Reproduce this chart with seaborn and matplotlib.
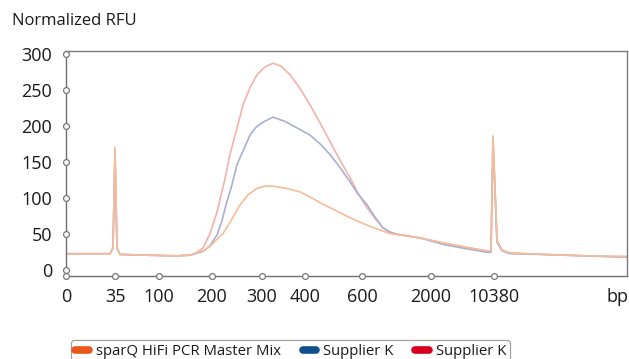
import matplotlib
matplotlib.use("Agg")
import matplotlib.pyplot as plt
from matplotlib.lines import Line2D
import seaborn as sns
import pandas as pd

# Electropherogram traces: position along the run (ladder scale) vs normalized RFU
red_pos = [0, 44, 47, 49, 51, 54, 80, 110, 124, 130, 137, 144, 151, 158, 164, 171, 177, 184,
           191, 199, 207, 215, 224, 234, 244, 254, 264, 274, 284, 292, 301, 309, 317, 324,
           331, 354, 377, 400, 421, 425, 427, 431, 436, 444, 477, 520, 561]
red_rfu = [22, 22, 30, 168, 30, 21, 20, 19, 20, 23, 30, 50, 80, 120, 160, 197, 229, 253,
           271, 282, 287, 283, 271, 252, 229, 204, 178, 152, 128, 106, 86, 71, 58, 52,
           49, 44, 37, 31, 26, 26, 183, 40, 27, 23, 21, 19, 18]

blue_pos = [0, 44, 47, 49, 51, 54, 80, 110, 124, 137, 144, 151, 156, 160, 166, 171, 178,
            184, 190, 197, 207, 219, 231, 244, 254, 264, 274, 284, 292, 301, 309, 317, 324,
            331, 354, 377, 400, 421, 425, 427, 431, 436, 444, 477, 520, 561]
blue_rfu = [22, 22, 30, 165, 30, 21, 20, 19, 20, 25, 33, 48, 68, 90, 118, 146, 168,
            187, 198, 205, 212, 206, 197, 187, 175, 160, 142, 122, 105, 90, 73, 58, 52,
            49, 44, 35, 29, 24, 24, 180, 38, 26, 22, 21, 19, 17]

orange_pos = [0, 44, 47, 49, 51, 54, 80, 110, 124, 137, 144, 151, 157, 165, 174, 182, 191,
              199, 207, 220, 234, 244, 254, 264, 274, 284, 294, 304, 314, 324, 331, 354,
              377, 400, 421, 425, 427, 431, 436, 444, 477, 520, 561]
orange_rfu = [22, 22, 30, 170, 30, 21, 20, 19, 20, 26, 32, 42, 50, 68, 90, 104, 113,
              116, 116, 113, 108, 101, 93, 86, 79, 72, 66, 60, 55, 50, 49, 44,
              37, 31, 26, 26, 186, 40, 27, 23, 21, 19, 18]

# Ladder positions and their size labels
tick_pos = [0, 49, 93, 146, 196, 239, 296, 365, 428]
tick_labels = ["0", "35", "100", "200", "300", "400", "600", "2000", "10380"]
y_ticks = [0, 50, 100, 150, 200, 250, 300]

legend_names = ["sparQ HiFi PCR Master Mix", "Supplier K", "Supplier K"]
legend_colors = ["#e8571c", "#11508c", "#d8001f"]

traces = pd.concat([
    pd.DataFrame({"pos": red_pos, "rfu": red_rfu, "sample": "red"}),
    pd.DataFrame({"pos": blue_pos, "rfu": blue_rfu, "sample": "blue"}),
    pd.DataFrame({"pos": orange_pos, "rfu": orange_rfu, "sample": "orange"}),
])
trace_colors = {"red": "#f3b2aa", "blue": "#a9afd3", "orange": "#f6bd98"}

sns.set_style("white")
plt.rcParams["font.family"] = ["Open Sans", "DejaVu Sans"]

fig = plt.figure(figsize=(6.29, 3.59), dpi=100)
W, H = 629, 359
ax = fig.add_axes([66 / W, 1 - 276 / H, (627 - 66) / W, (276 - 51) / H])

sns.lineplot(data=traces, x="pos", y="rfu", hue="sample", palette=trace_colors,
             estimator=None, sort=False, linewidth=1.2, legend=False, ax=ax)

ax.set_xlim(0, 561)
ax.set_ylim(-9, 304)
ax.set_xlabel("")
ax.set_ylabel("")

for side in ["left", "bottom"]:
    ax.spines[side].set_color("#6f6f6f")
    ax.spines[side].set_linewidth(1.0)
for side in ["top", "right"]:
    ax.spines[side].set_visible(True)
    ax.spines[side].set_color("#7a7a7a")
    ax.spines[side].set_linewidth(1.0)

ax.set_xticks(tick_pos)
ax.set_xticklabels(tick_labels)
ax.set_yticks(y_ticks)
ax.tick_params(axis="both", length=0, labelsize=13, colors="#1a1a1a")
ax.tick_params(axis="x", pad=9)
ax.tick_params(axis="y", pad=10)

# open circle tick markers on the axes
circle = dict(marker="o", ms=4.2, mfc="white", mec="#777777", mew=0.9,
              linestyle="none", clip_on=False, zorder=5)
ax.plot(tick_pos, [-9] * len(tick_pos), **circle)
ax.plot([0] * len(y_ticks), y_ticks, **circle)

fig.text(12 / W, 1 - 21 / H, "Normalized RFU", fontsize=12, va="center", ha="left",
         color="#1a1a1a")
fig.text(617 / W, 1 - 297 / H, "bp", fontsize=13, va="center", ha="center",
         color="#1a1a1a")

handles = [Line2D([0], [0], color=c, lw=5.5, solid_capstyle="round") for c in legend_colors]
leg = fig.legend(handles, legend_names, loc="upper left",
                 bbox_to_anchor=(64 / W, 1 - 333 / H), ncol=3, frameon=True,
                 fancybox=True, fontsize=10.7, handlelength=0.9, handletextpad=0.5,
                 columnspacing=1.45, borderpad=0.25, labelcolor="#1a1a1a")
leg.get_frame().set_edgecolor("#8a8a8a")
leg.get_frame().set_linewidth(0.9)

fig.savefig("out.png", dpi=100)
